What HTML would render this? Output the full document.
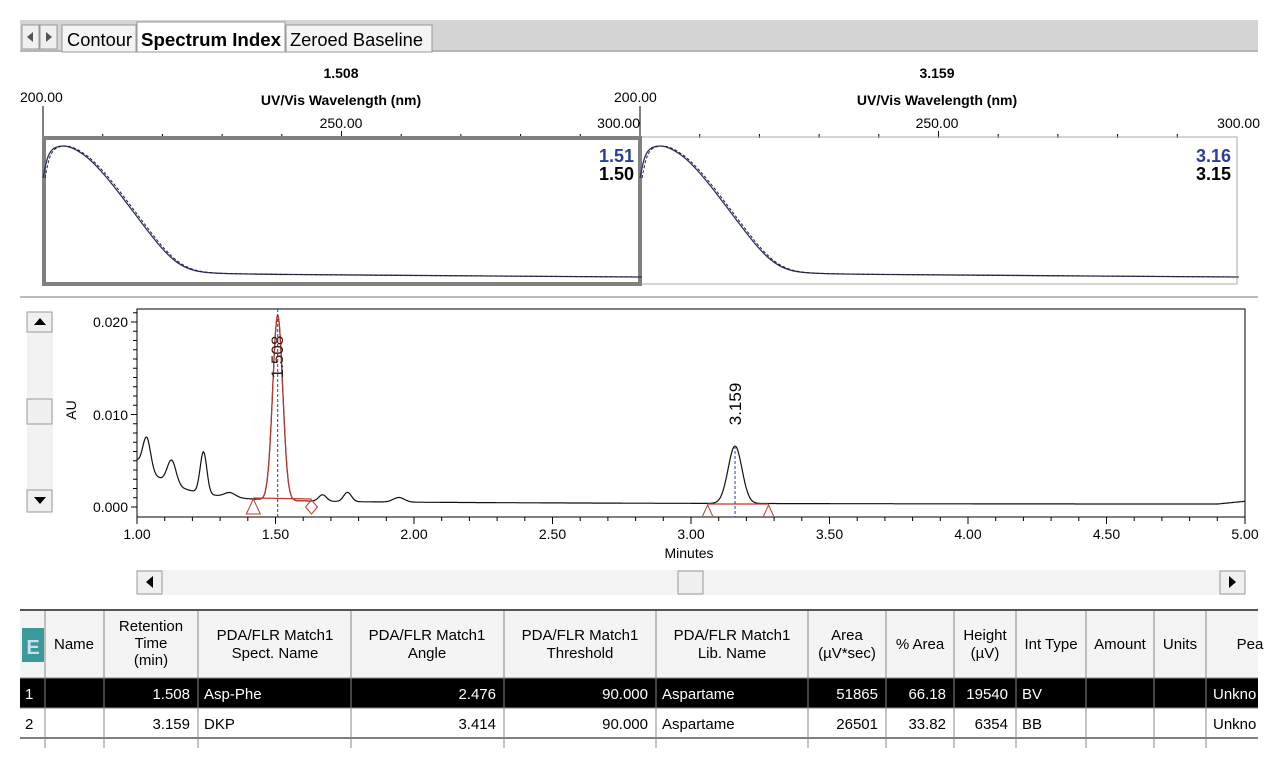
<!DOCTYPE html>
<html><head><meta charset="utf-8">
<style>
html,body{margin:0;padding:0;background:#fff;width:1280px;height:775px;overflow:hidden}
svg{display:block;font-family:"Liberation Sans",sans-serif}
.n{font-family:"Liberation Sans Narrow","Liberation Sans",sans-serif}
</style></head><body>
<svg id="s" width="1280" height="775" viewBox="0 0 1280 775">
<rect x="20" y="20" width="1238" height="32" fill="#d4d4d4"/>
<line x1="20" y1="51" x2="1258" y2="51" stroke="#999"/>
<rect x="22" y="25" width="17" height="24" fill="#f0f0f0" stroke="#999"/>
<rect x="40" y="25" width="17" height="24" fill="#f0f0f0" stroke="#999"/>
<path d="M33 32 L27 37 L33 42Z" fill="#555"/><path d="M46 32 L52 37 L46 42Z" fill="#555"/>
<rect x="62" y="25" width="74" height="27" fill="#f4f4f4" stroke="#999"/>
<rect x="137" y="22" width="148" height="30" fill="#fff" stroke="#999"/>
<rect x="286" y="25" width="146" height="27" fill="#f4f4f4" stroke="#999"/>
<text x="67" y="46" font-size="18" textLength="65" lengthAdjust="spacingAndGlyphs">Contour</text>
<text x="141" y="46" font-size="18" font-weight="bold" textLength="140" lengthAdjust="spacingAndGlyphs">Spectrum Index</text>
<text x="290" y="46" font-size="18" textLength="133" lengthAdjust="spacingAndGlyphs">Zeroed Baseline</text>
<g font-size="14">
<text x="341" y="78" text-anchor="middle" font-weight="bold">1.508</text>
<text x="341" y="105" text-anchor="middle" font-weight="bold">UV/Vis Wavelength (nm)</text>
<text x="20" y="102">200.00</text>
<text x="341" y="128" text-anchor="middle">250.00</text>
<text x="640" y="128" text-anchor="end">300.00</text>
<text x="937" y="78" text-anchor="middle" font-weight="bold">3.159</text>
<text x="937" y="105" text-anchor="middle" font-weight="bold">UV/Vis Wavelength (nm)</text>
<text x="614" y="102">200.00</text>
<text x="937" y="128" text-anchor="middle">250.00</text>
<text x="1260" y="128" text-anchor="end">300.00</text>
</g>
<line x1="43" y1="106" x2="43" y2="137" stroke="#000"/>
<line x1="640" y1="106" x2="640" y2="137" stroke="#000"/>
<g id="sticks" stroke="#000"></g>
<rect x="640" y="137" width="597" height="147" fill="none" stroke="#aaa"/>
<rect x="44" y="138" width="596" height="146" fill="none" stroke="#808080" stroke-width="4"/>
<g id="spec" fill="none"></g>
<g font-size="18" font-weight="bold" text-anchor="end">
<text x="634" y="162" fill="#2b3f9a">1.51</text><text x="634" y="180">1.50</text>
<text x="1231" y="162" fill="#2b3f9a">3.16</text><text x="1231" y="180">3.15</text>
</g>
<line x1="20" y1="297" x2="1258" y2="297" stroke="#bbb" stroke-width="2"/>
<rect x="27" y="312" width="26" height="200" fill="#f2f2f2"/>
<rect x="27" y="312" width="25" height="20" fill="#f0f0f0" stroke="#999"/><path d="M34 325 L40 318 L46 325Z"/>
<rect x="27" y="399" width="25" height="25" fill="#f0f0f0" stroke="#999"/>
<rect x="27" y="490" width="25" height="22" fill="#f0f0f0" stroke="#999"/><path d="M34 497 L40 504 L46 497Z"/>
<rect x="137" y="309" width="1108" height="208" fill="none" stroke="#000"/>
<g font-size="14" text-anchor="end">
<text x="128" y="327">0.020</text><text x="128" y="420">0.010</text><text x="128" y="512">0.000</text>
</g>
<text transform="translate(76,410) rotate(-90)" font-size="14" text-anchor="middle">AU</text>
<g id="axt" stroke="#000"></g>
<g font-size="14" text-anchor="middle" id="xl"></g>
<text x="689" y="558" font-size="14" text-anchor="middle">Minutes</text>
<g id="chrom" fill="none"></g>
<text transform="translate(283,357) rotate(-90)" font-size="17" text-anchor="middle" fill="#3a1a1a">1.508</text>
<text transform="translate(741,404) rotate(-90)" font-size="17" text-anchor="middle">3.159</text>
<rect x="137" y="570" width="1108" height="25" fill="#f3f3f3"/>
<rect x="137" y="571" width="25" height="23" fill="#f0f0f0" stroke="#999"/><path d="M153 576 L146 582 L153 588Z"/>
<rect x="678" y="571" width="25" height="23" fill="#f0f0f0" stroke="#999"/>
<rect x="1220" y="571" width="25" height="23" fill="#f0f0f0" stroke="#999"/><path d="M1229 576 L1236 582 L1229 588Z"/>
<line x1="20" y1="610" x2="1258" y2="610" stroke="#555" stroke-width="2"/>
<rect x="20" y="611" width="1238" height="67" fill="#f4f4f4"/>
<rect x="20" y="678" width="1238" height="30" fill="#000"/>
<line x1="20" y1="738" x2="1258" y2="738" stroke="#000"/>
<rect x="22" y="628" width="22" height="34" fill="#3a9a9a"/>
<text x="33" y="654" font-size="20" font-weight="bold" fill="#cde" text-anchor="middle">E</text>
<g id="cols" stroke="#888"></g>
<g class="n" font-size="15" text-anchor="middle">
<text x="74" y="649">Name</text>
<text x="151" y="631">Retention</text><text x="151" y="648">Time</text><text x="151" y="665">(min)</text>
<text x="275" y="640">PDA/FLR Match1</text><text x="275" y="658">Spect. Name</text>
<text x="427" y="640">PDA/FLR Match1</text><text x="427" y="658">Angle</text>
<text x="580" y="640">PDA/FLR Match1</text><text x="580" y="658">Threshold</text>
<text x="732" y="640">PDA/FLR Match1</text><text x="732" y="658">Lib. Name</text>
<text x="847" y="640">Area</text><text x="847" y="658">(µV*sec)</text>
<text x="920" y="649">% Area</text>
<text x="985" y="640">Height</text><text x="985" y="658">(µV)</text>
<text x="1051" y="649">Int Type</text>
<text x="1120" y="649">Amount</text>
<text x="1180" y="649">Units</text>
<text x="1250" y="649">Pea</text>
</g>
<g class="n" font-size="15">
<g fill="#fff">
<text x="25" y="699">1</text>
<text x="190" y="699" text-anchor="end">1.508</text><text x="204" y="699">Asp-Phe</text>
<text x="496" y="699" text-anchor="end">2.476</text>
<text x="648" y="699" text-anchor="end">90.000</text><text x="662" y="699">Aspartame</text>
<text x="878" y="699" text-anchor="end">51865</text>
<text x="946" y="699" text-anchor="end">66.18</text>
<text x="1008" y="699" text-anchor="end">19540</text>
<text x="1022" y="699">BV</text><text x="1213" y="699">Unkno</text>
</g>
<text x="25" y="729">2</text>
<text x="190" y="729" text-anchor="end">3.159</text><text x="204" y="729">DKP</text>
<text x="496" y="729" text-anchor="end">3.414</text>
<text x="648" y="729" text-anchor="end">90.000</text><text x="662" y="729">Aspartame</text>
<text x="878" y="729" text-anchor="end">26501</text>
<text x="946" y="729" text-anchor="end">33.82</text>
<text x="1008" y="729" text-anchor="end">6354</text>
<text x="1022" y="729">BB</text><text x="1213" y="729">Unkno</text>
</g>
</svg>
<script>
var NS="http://www.w3.org/2000/svg";
function el(p,t,a){var e=document.createElementNS(NS,t);for(var k in a)e.setAttribute(k,a[k]);document.getElementById(p).appendChild(e);return e;}
for(var i=1;i<10;i++){var x=43+i*59.7;el("sticks","line",{x1:x,y1:i==5?131:134,x2:x,y2:138});el("sticks","line",{x1:x+597,y1:i==5?131:134,x2:x+597,y2:138});}
var sp=[[0,178],[4,158],[9,149],[16,146],[24,146],[34,150],[48,160],[66,180],[86,206],[104,230],[120,250],[134,263],[148,270],[165,273],[200,274],[300,275],[597,277]];
function spPath(ox,dx){var d="M"+(sp[0][0]+ox+dx)+" "+sp[0][1];for(var i=1;i<sp.length;i++){var a=sp[i-1],b=sp[i];var mx=(a[0]+b[0])/2;d+="Q"+(a[0]+ox+dx)+" "+a[1]+" "+(mx+ox+dx)+" "+((a[1]+b[1])/2);}d+="L"+(sp[sp.length-1][0]+ox+dx)+" "+sp[sp.length-1][1];return d;}
[43,640].forEach(function(o){el("spec","path",{d:spPath(o,0),stroke:"#2b3070","stroke-width":1.3,"stroke-linejoin":"round"});el("spec","path",{d:spPath(o,2),stroke:"#222","stroke-dasharray":"3 2"});});
function X(t){return 137+(t-1)*277;}function Y(v){return 507-v*9250;}
var pk=[[1.035,0.0035,0.014],[1.125,0.0026,0.016],[1.24,0.0045,0.012],[1.335,0.0005,0.02],[1.508,0.0200,0.018],[1.67,0.0007,0.014],[1.76,0.001,0.014],[1.945,0.0005,0.02],[3.159,0.0062,0.025]];
function f(t){var v=0.0003+0.0042*Math.exp(-(t-1)/0.14)+0.0005*Math.exp(-(t-1)/1.2);if(t>4.9)v+=(t-4.9)*0.003;pk.forEach(function(p){v+=p[1]*Math.exp(-Math.pow((t-p[0])/p[2],2)/2);});return v;}
var d="",dr="";for(var t=1;t<=5.0001;t+=0.002){d+=(d?"L":"M")+X(t).toFixed(1)+" "+Y(f(t)).toFixed(1);if(t>1.43&&t<1.63)dr+=(dr?"L":"M")+X(t).toFixed(1)+" "+Y(f(t)).toFixed(1);}
el("chrom","path",{d:d,stroke:"#111","stroke-width":1.2});
el("chrom","path",{d:dr,stroke:"#c0392b","stroke-width":1.2});
el("chrom","line",{x1:X(1.42),y1:498,x2:X(1.63),y2:499,stroke:"#c0392b","stroke-width":1.3});
el("chrom","line",{x1:X(3.06),y1:504,x2:X(3.28),y2:504,stroke:"#c0392b","stroke-width":1.3});
el("chrom","path",{d:"M"+(X(1.42)-7)+" 514 L"+X(1.42)+" 499 L"+(X(1.42)+7)+" 514Z",stroke:"#c0392b"});
el("chrom","path",{d:"M"+X(1.63)+" 500 L"+(X(1.63)+6)+" 507 L"+X(1.63)+" 514 L"+(X(1.63)-6)+" 507Z",stroke:"#c0392b"});
el("chrom","path",{d:"M"+(X(3.06)-5)+" 516 L"+X(3.06)+" 505 L"+(X(3.06)+5)+" 516",stroke:"#c0392b"});
el("chrom","path",{d:"M"+(X(3.28)-5)+" 516 L"+X(3.28)+" 505 L"+(X(3.28)+5)+" 516",stroke:"#c0392b"});
el("chrom","line",{x1:X(1.508),y1:309,x2:X(1.508),y2:517,stroke:"#2b3f9a","stroke-dasharray":"3 2"});
el("chrom","line",{x1:X(3.159),y1:446,x2:X(3.159),y2:517,stroke:"#2b3f9a","stroke-dasharray":"3 2"});
for(var i=0;i<=40;i++){var x=137+i*27.7;el("axt","line",{x1:x,y1:517,x2:x,y2:i%5==0?524:521});}
for(var i=0;i<=8;i++){var l=el("xl","text",{x:137+i*138.5,y:539});l.textContent=(1+i*0.5).toFixed(2);}
for(var i=0;i<=22;i++){var y=507-i*9.25;if(y<310)break;el("axt","line",{x1:i%10==0?131:133,y1:y,x2:137,y2:y});}
[45,104,198,351,504,656,808,886,954,1016,1086,1154,1206].forEach(function(x){el("cols","line",{x1:x,y1:611,x2:x,y2:748});});
el("cols","line",{x1:20,y1:678,x2:1258,y2:678});el("cols","line",{x1:20,y1:708,x2:1258,y2:708});
</script>
</body></html>
